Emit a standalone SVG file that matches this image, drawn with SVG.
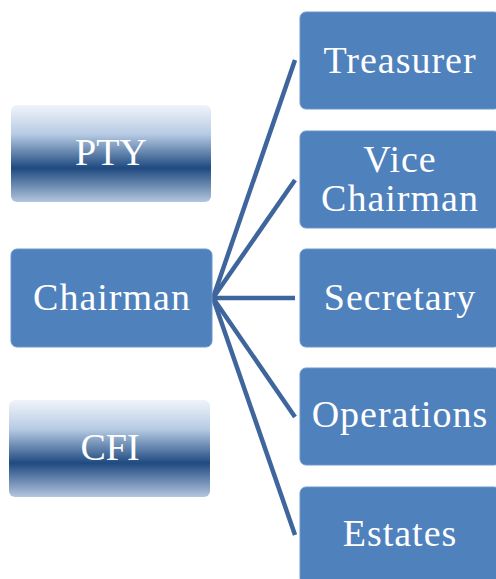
<svg xmlns="http://www.w3.org/2000/svg" width="496" height="579" viewBox="0 0 496 579">
<defs>
<linearGradient id="grad" x1="0" y1="0" x2="0" y2="1">
<stop offset="0" stop-color="#f0f4fa"/>
<stop offset="0.3" stop-color="#b7cbe4"/>
<stop offset="0.65" stop-color="#1f4a80"/>
<stop offset="1" stop-color="#b3c6df"/>
</linearGradient>
</defs>
<style>
.box{fill:#4f81bd;stroke:#6d97cb;stroke-width:1}
.gbox{fill:url(#grad)}
.lbl{font-family:"Liberation Serif",serif;font-size:38px;fill:#ffffff;text-anchor:middle}
.wide{letter-spacing:1px}
.conn{stroke:#3e669c;stroke-width:4.5;fill:none;stroke-linecap:butt}
</style>
<g id="connectors">
<line class="conn" x1="213" y1="298" x2="295" y2="60"/>
<line class="conn" x1="213" y1="298" x2="295" y2="180"/>
<line class="conn" x1="213" y1="298" x2="295" y2="298"/>
<line class="conn" x1="213" y1="298" x2="295" y2="417"/>
<line class="conn" x1="213" y1="298" x2="295" y2="535"/>
</g>
<g id="pty">
<rect class="gbox" x="11" y="105" width="200" height="97" rx="6"/>
<text class="lbl" x="111" y="165">PTY</text>
</g>
<g id="chairman">
<rect class="box" x="11" y="249" width="201" height="98" rx="6"/>
<text class="lbl wide" x="112" y="310">Chairman</text>
</g>
<g id="cfi">
<rect class="gbox" x="9" y="400" width="201" height="97" rx="6"/>
<text class="lbl" x="110" y="460">CFI</text>
</g>
<g id="treasurer">
<rect class="box" x="300" y="12" width="200" height="97" rx="6"/>
<text class="lbl wide" x="400" y="73">Treasurer</text>
</g>
<g id="vice-chairman">
<rect class="box" x="300" y="131" width="200" height="97" rx="6"/>
<text class="lbl wide" x="400" y="172">Vice</text>
<text class="lbl wide" x="400" y="211">Chairman</text>
</g>
<g id="secretary">
<rect class="box" x="300" y="249" width="200" height="98" rx="6"/>
<text class="lbl wide" x="400" y="310">Secretary</text>
</g>
<g id="operations">
<rect class="box" x="300" y="368" width="200" height="97" rx="6"/>
<text class="lbl wide" x="400" y="427">Operations</text>
</g>
<g id="estates">
<rect class="box" x="300" y="487" width="200" height="97" rx="6"/>
<text class="lbl wide" x="400" y="546">Estates</text>
</g>
</svg>
